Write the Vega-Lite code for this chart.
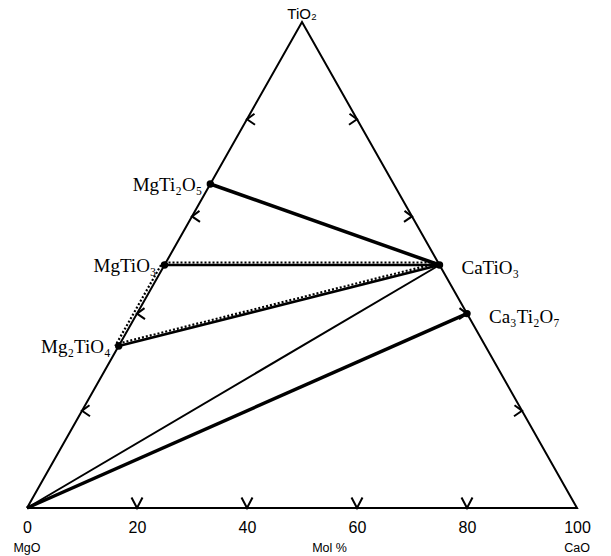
{
  "$schema": "https://vega.github.io/schema/vega-lite/v6.json",
  "autosize": {"type": "none"},
  "padding": {"left": 27, "top": 22, "right": 34, "bottom": 48},
  "width": 550,
  "height": 486,
  "background": "white",
  "config": {"view": {"stroke": null}},
  "datasets": {
    "lines": [
      {"seg": "edge", "grp": "edge", "ord": 1, "x": 0, "y": 0},
      {"seg": "edge", "grp": "edge", "ord": 2, "x": 100, "y": 0},
      {"seg": "edge", "grp": "edge", "ord": 3, "x": 50, "y": 100},
      {"seg": "edge", "grp": "edge", "ord": 4, "x": 0, "y": 0},
      {"seg": "MgTi2O5-CaTiO3", "grp": "thick", "ord": 1, "x": 33.33, "y": 66.67},
      {"seg": "MgTi2O5-CaTiO3", "grp": "thick", "ord": 2, "x": 75, "y": 50},
      {"seg": "MgO-Ca3Ti2O7", "grp": "thick", "ord": 1, "x": 0, "y": 0},
      {"seg": "MgO-Ca3Ti2O7", "grp": "thick", "ord": 2, "x": 80, "y": 40},
      {"seg": "MgTiO3-CaTiO3", "grp": "medium", "ord": 1, "x": 25, "y": 50},
      {"seg": "MgTiO3-CaTiO3", "grp": "medium", "ord": 2, "x": 75, "y": 50},
      {"seg": "Mg2TiO4-CaTiO3", "grp": "medium", "ord": 1, "x": 16.67, "y": 33.33},
      {"seg": "Mg2TiO4-CaTiO3", "grp": "medium", "ord": 2, "x": 75, "y": 50},
      {"seg": "MgO-CaTiO3", "grp": "thin", "ord": 1, "x": 0, "y": 0},
      {"seg": "MgO-CaTiO3", "grp": "thin", "ord": 2, "x": 75, "y": 50},
      {"seg": "dot-MgTiO3-CaTiO3", "grp": "dotH", "ord": 1, "x": 25, "y": 50},
      {"seg": "dot-MgTiO3-CaTiO3", "grp": "dotH", "ord": 2, "x": 75, "y": 50},
      {"seg": "dot-Mg2TiO4-CaTiO3", "grp": "dotH", "ord": 1, "x": 16.67, "y": 33.33},
      {"seg": "dot-Mg2TiO4-CaTiO3", "grp": "dotH", "ord": 2, "x": 75, "y": 50},
      {"seg": "dot-MgTiO3-Mg2TiO4", "grp": "dotL", "ord": 1, "x": 25, "y": 50},
      {"seg": "dot-MgTiO3-Mg2TiO4", "grp": "dotL", "ord": 2, "x": 16.67, "y": 33.33}
    ],
    "phases": [
      {"name": "MgTi₂O₅", "x": 33.33, "y": 66.67, "side": "left"},
      {"name": "MgTiO₃", "x": 25, "y": 50, "side": "left"},
      {"name": "Mg₂TiO₄", "x": 16.67, "y": 33.33, "side": "left"},
      {"name": "CaTiO₃", "x": 75, "y": 50, "side": "right"},
      {"name": "Ca₃Ti₂O₇", "x": 80, "y": 40, "side": "right"}
    ],
    "ticks": [
      {"edge": "bottom", "x": 20, "y": 0},
      {"edge": "bottom", "x": 40, "y": 0},
      {"edge": "bottom", "x": 60, "y": 0},
      {"edge": "bottom", "x": 80, "y": 0},
      {"edge": "left", "x": 10, "y": 20},
      {"edge": "left", "x": 20, "y": 40},
      {"edge": "left", "x": 30, "y": 60},
      {"edge": "left", "x": 40, "y": 80},
      {"edge": "right", "x": 90, "y": 20},
      {"edge": "right", "x": 80, "y": 40},
      {"edge": "right", "x": 70, "y": 60},
      {"edge": "right", "x": 60, "y": 80}
    ],
    "corners": [
      {"name": "MgO", "x": 0, "y": 0},
      {"name": "Mol %", "x": 55, "y": 0},
      {"name": "CaO", "x": 100, "y": 0}
    ],
    "apex": [
      {"name": "TiO₂", "x": 50, "y": 100}
    ]
  },
  "encoding": {
    "x": {"field": "x", "type": "quantitative", "scale": {"domain": [0, 100], "nice": false, "zero": false},
      "axis": {"values": [0, 20, 40, 60, 80, 100], "title": null, "domain": false, "ticks": false, "grid": false,
        "labelFont": "Liberation Sans", "labelFontSize": 16, "labelColor": "black", "labelPadding": 11, "labelFlush": false, "labelOverlap": false}},
    "y": {"field": "y", "type": "quantitative", "scale": {"domain": [0, 100], "nice": false, "zero": false}, "axis": null}
  },
  "layer": [
    {
      "data": {"name": "lines"},
      "transform": [{"filter": "datum.grp == 'edge'"}],
      "mark": {"type": "line", "color": "black", "strokeWidth": 2, "strokeJoin": "miter"},
      "encoding": {"detail": {"field": "seg"}, "order": {"field": "ord"}}
    },
    {
      "data": {"name": "lines"},
      "transform": [{"filter": "datum.grp == 'thick'"}],
      "mark": {"type": "line", "color": "black", "strokeWidth": 3.5},
      "encoding": {"detail": {"field": "seg"}, "order": {"field": "ord"}}
    },
    {
      "data": {"name": "lines"},
      "transform": [{"filter": "datum.grp == 'medium'"}],
      "mark": {"type": "line", "color": "black", "strokeWidth": 2.6},
      "encoding": {"detail": {"field": "seg"}, "order": {"field": "ord"}}
    },
    {
      "data": {"name": "lines"},
      "transform": [{"filter": "datum.grp == 'thin'"}],
      "mark": {"type": "line", "color": "black", "strokeWidth": 2},
      "encoding": {"detail": {"field": "seg"}, "order": {"field": "ord"}}
    },
    {
      "data": {"name": "lines"},
      "transform": [{"filter": "datum.grp == 'dotH'"}],
      "mark": {"type": "line", "color": "black", "strokeWidth": 2.2, "strokeDash": [2, 2], "yOffset": -2.5},
      "encoding": {"detail": {"field": "seg"}, "order": {"field": "ord"}}
    },
    {
      "data": {"name": "lines"},
      "transform": [{"filter": "datum.grp == 'dotL'"}],
      "mark": {"type": "line", "color": "black", "strokeWidth": 2.2, "strokeDash": [2, 2], "xOffset": -3.5},
      "encoding": {"detail": {"field": "seg"}, "order": {"field": "ord"}}
    },
    {
      "data": {"name": "ticks"},
      "transform": [{"filter": "datum.edge == 'bottom'"}],
      "mark": {"type": "point", "shape": "M-1.1,-2.1L0,0L1.1,-2.1", "size": 100, "filled": false, "color": "black", "strokeWidth": 2, "opacity": 1}
    },
    {
      "data": {"name": "ticks"},
      "transform": [{"filter": "datum.edge == 'left'"}],
      "mark": {"type": "point", "shape": "M1.5,-1.1L0,0L1.6,1.1", "size": 100, "filled": false, "color": "black", "strokeWidth": 2, "opacity": 1}
    },
    {
      "data": {"name": "ticks"},
      "transform": [{"filter": "datum.edge == 'right'"}],
      "mark": {"type": "point", "shape": "M-1.5,-1.1L0,0L-1.6,1.1", "size": 100, "filled": false, "color": "black", "strokeWidth": 2, "opacity": 1}
    },
    {
      "data": {"name": "phases"},
      "mark": {"type": "circle", "size": 55, "color": "black", "opacity": 1}
    },
    {
      "data": {"name": "phases"},
      "transform": [{"filter": "datum.side == 'left'"}],
      "mark": {"type": "text", "align": "right", "baseline": "middle", "dx": -8, "dy": 1, "font": "Liberation Serif", "fontSize": 19, "color": "black"},
      "encoding": {"text": {"field": "name"}}
    },
    {
      "data": {"name": "phases"},
      "transform": [{"filter": "datum.side == 'right'"}],
      "mark": {"type": "text", "align": "left", "baseline": "middle", "dx": 22, "dy": 3, "font": "Liberation Serif", "fontSize": 19, "color": "black"},
      "encoding": {"text": {"field": "name"}}
    },
    {
      "data": {"name": "corners"},
      "mark": {"type": "text", "align": "center", "baseline": "middle", "dy": 40, "font": "Liberation Sans", "fontSize": 12.5, "color": "black"},
      "encoding": {"text": {"field": "name"}}
    },
    {
      "data": {"name": "apex"},
      "mark": {"type": "text", "align": "center", "baseline": "middle", "dy": -8, "font": "Liberation Sans", "fontSize": 15, "color": "black"},
      "encoding": {"text": {"field": "name"}}
    }
  ]
}
